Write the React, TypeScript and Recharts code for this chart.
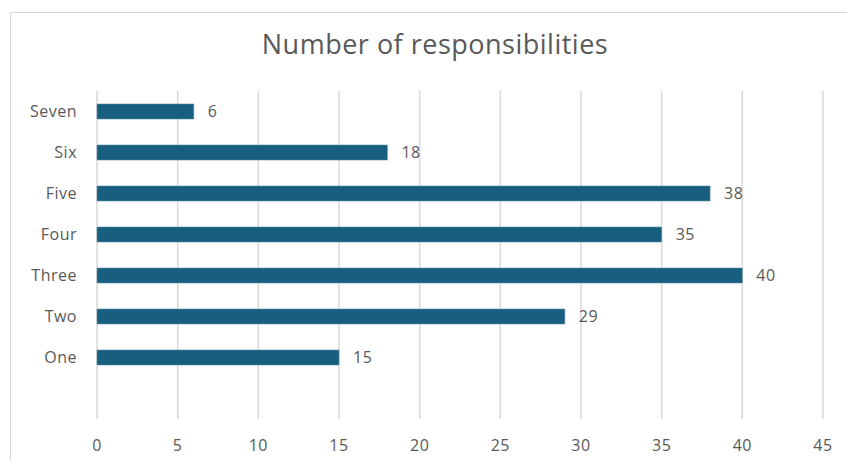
import { Bar, BarChart, CartesianGrid, LabelList, XAxis, YAxis } from "recharts";

const categories = ["Seven", "Six", "Five", "Four", "Three", "Two", "One", ""];
const counts = [6, 18, 38, 35, 40, 29, 15, null];
const xTicks = [0, 5, 10, 15, 20, 25, 30, 35, 40, 45];

const data = categories.map((name, i) => ({ name, value: counts[i] }));

const font = "'Open Sans', sans-serif";
const textStyle = { fill: "#595959", fontSize: 16, fontFamily: font, letterSpacing: 0.5 };

export default function App() {
  return (
    <div style={{ position: "absolute", left: 0, top: 0, width: 847, height: 461, overflow: "hidden", background: "#fff", fontFamily: font }}>
      <div style={{ position: "absolute", left: 10, top: 12, width: 850, height: 470, border: "1.5px solid #d9d9d9" }} />
      <div style={{ position: "absolute", left: 0, top: 25, width: 870, textAlign: "center", fontSize: 27, letterSpacing: 0.5, color: "#595959" }}>
        Number of responsibilities
      </div>
      <div style={{ position: "absolute", left: 0, top: 0 }}>
        <BarChart width={847} height={461} data={data} layout="vertical" margin={{ top: 91, right: 24, bottom: 0, left: 12 }}>
          <CartesianGrid horizontal={false} stroke="#d9d9d9" strokeWidth={1.5} />
          <XAxis
            type="number"
            domain={[0, 45]}
            ticks={xTicks}
            axisLine={false}
            tickLine={false}
            height={42}
            tickMargin={15}
            tick={textStyle}
          />
          <YAxis
            type="category"
            dataKey="name"
            width={85}
            axisLine={false}
            tickLine={false}
            tickMargin={14}
            tick={textStyle}
          />
          <Bar dataKey="value" fill="#175e7f" stroke="#5f8fa8" strokeWidth={0.6} barSize={15} isAnimationActive={false}>
            <LabelList dataKey="value" position="right" offset={14} {...textStyle} />
          </Bar>
        </BarChart>
      </div>
    </div>
  );
}
